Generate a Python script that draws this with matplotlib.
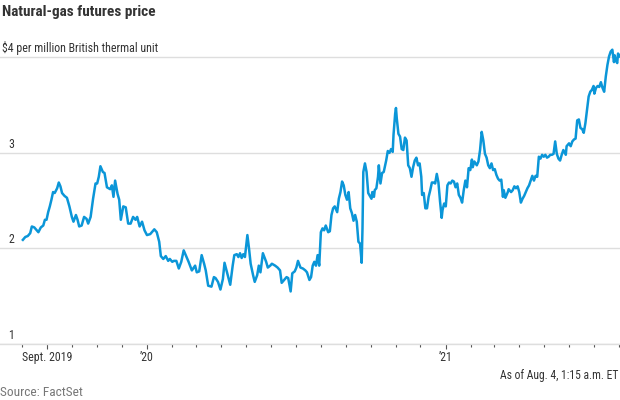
import matplotlib
matplotlib.use("Agg")
import matplotlib.pyplot as plt
import matplotlib.dates as mdates
import matplotlib.ticker as mticker
import matplotlib.transforms as mtransforms
from matplotlib import font_manager
import pandas as pd

# days after 2020-01-01 and price in $/MMBtu
days = [-152, -149, -146, -143, -141, -138, -136, -133, -130, -127,
        -125, -123, -121, -119, -117, -115, -113, -110, -108, -106,
        -104, -101, -98, -95, -92, -90, -87, -85, -83, -80,
        -77, -74, -72, -69, -66, -63, -61, -59, -57, -54,
        -52, -49, -47, -45, -43, -41, -39, -36, -34, -32,
        -29, -26, -23, -20, -17, -14, -12, -9, -6, -3,
        0, 4, 6, 9, 12, 15, 17, 20, 23, 26,
        28, 31, 33, 36, 39, 42, 45, 48, 51, 55,
        59, 61, 64, 67, 70, 72, 75, 79, 82, 84,
        87, 90, 93, 95, 98, 102, 105, 107, 110, 112,
        114, 116, 118, 120, 123, 125, 127, 130, 132, 135,
        137, 139, 142, 146, 148, 151, 153, 157, 160, 163,
        165, 168, 171, 173, 176, 178, 181, 183, 185, 188,
        191, 194, 196, 199, 201, 203, 205, 207, 209, 211,
        213, 215, 217, 219, 222, 224, 226, 228, 230, 233,
        235, 237, 239, 241, 243, 245, 247, 249, 251, 253,
        255, 257, 259, 261, 263, 264, 265, 267, 269, 271,
        273, 275, 276, 278, 279, 281, 283, 284, 286, 288,
        290, 293, 295, 297, 299, 301, 302, 304, 305, 306,
        308, 310, 312, 314, 316, 318, 320, 322, 324, 326,
        328, 330, 332, 334, 336, 337, 339, 341, 343, 345,
        347, 349, 351, 353, 355, 357, 359, 361, 362, 364,
        366, 368, 370, 372, 374, 376, 378, 380, 382, 384,
        386, 388, 390, 392, 394, 396, 398, 399, 401, 404,
        406, 408, 409, 410, 412, 414, 416, 418, 420, 422,
        424, 426, 428, 430, 432, 434, 436, 437, 439, 442,
        443, 446, 448, 450, 452, 454, 456, 458, 460, 462,
        464, 466, 468, 470, 472, 474, 476, 478, 480, 482,
        484, 486, 488, 490, 492, 494, 496, 498, 500, 502,
        504, 506, 508, 510, 513, 514, 517, 519, 521, 523,
        525, 527, 529, 531, 533, 535, 537, 539, 541, 543,
        545, 547, 548, 550, 552, 554, 556, 558, 560, 562,
        564, 566, 568, 570, 572, 573, 574, 576, 577, 579]

prices = [2.09, 2.12, 2.13, 2.16, 2.23, 2.22, 2.20, 2.17, 2.22, 2.24,
          2.30, 2.30, 2.38, 2.44, 2.51, 2.59, 2.58, 2.63, 2.69, 2.65,
          2.58, 2.55, 2.53, 2.44, 2.33, 2.28, 2.35, 2.30, 2.23, 2.24,
          2.33, 2.31, 2.26, 2.33, 2.52, 2.68, 2.68, 2.75, 2.86, 2.80,
          2.79, 2.64, 2.63, 2.62, 2.66, 2.54, 2.71, 2.57, 2.51, 2.30,
          2.44, 2.43, 2.26, 2.26, 2.33, 2.30, 2.33, 2.23, 2.28, 2.19,
          2.14, 2.15, 2.17, 2.20, 2.17, 2.07, 1.92, 1.89, 1.92, 1.87,
          1.89, 1.86, 1.87, 1.87, 1.79, 1.86, 1.98, 1.92, 1.86, 1.77,
          1.82, 1.75, 1.76, 1.93, 1.84, 1.77, 1.61, 1.60, 1.70, 1.69,
          1.65, 1.57, 1.68, 1.85, 1.75, 1.62, 1.82, 1.93, 1.94, 1.91,
          1.95, 1.90, 1.94, 1.91, 2.14, 2.00, 1.84, 1.72, 1.65, 1.72,
          1.82, 1.75, 1.95, 1.86, 1.80, 1.82, 1.84, 1.82, 1.80, 1.77,
          1.64, 1.67, 1.70, 1.69, 1.55, 1.74, 1.76, 1.80, 1.87, 1.80,
          1.79, 1.77, 1.75, 1.67, 1.70, 1.82, 1.86, 1.82, 1.93, 1.82,
          2.17, 2.21, 2.19, 2.24, 2.17, 2.18, 2.35, 2.42, 2.44, 2.38,
          2.52, 2.59, 2.70, 2.66, 2.56, 2.51, 2.59, 2.42, 2.37, 2.29,
          2.35, 2.28, 2.07, 2.05, 1.85, 2.21, 2.80, 2.89, 2.80, 2.58,
          2.55, 2.52, 2.59, 2.54, 2.61, 2.63, 2.75, 2.87, 2.68, 2.79,
          2.80, 2.92, 3.02, 3.00, 3.04, 3.01, 3.19, 3.41, 3.47, 3.36,
          3.20, 3.17, 3.04, 3.03, 3.16, 3.13, 2.87, 2.84, 2.75, 2.85,
          2.92, 2.95, 2.87, 2.89, 2.75, 2.56, 2.58, 2.42, 2.42, 2.54,
          2.61, 2.69, 2.69, 2.68, 2.78, 2.69, 2.49, 2.32, 2.40, 2.47,
          2.44, 2.66, 2.69, 2.68, 2.71, 2.70, 2.64, 2.68, 2.56, 2.53,
          2.48, 2.61, 2.71, 2.64, 2.84, 2.82, 2.93, 2.85, 2.91, 2.87,
          2.91, 3.03, 3.13, 3.22, 3.13, 2.99, 2.95, 2.87, 2.84, 2.89,
          2.82, 2.83, 2.77, 2.73, 2.71, 2.72, 2.54, 2.61, 2.53, 2.59,
          2.62, 2.59, 2.61, 2.65, 2.63, 2.65, 2.59, 2.48, 2.52, 2.55,
          2.59, 2.63, 2.66, 2.71, 2.76, 2.71, 2.76, 2.75, 2.96, 2.94,
          2.98, 2.96, 2.98, 2.95, 2.96, 2.98, 2.98, 2.99, 3.12, 2.99,
          2.94, 2.92, 2.98, 3.03, 2.98, 3.07, 3.10, 3.07, 3.12, 3.14,
          3.15, 3.34, 3.35, 3.26, 3.25, 3.21, 3.31, 3.45, 3.59, 3.64,
          3.66, 3.70, 3.62, 3.68, 3.70, 3.69, 3.74, 3.68, 3.64, 3.80,
          3.92, 4.01, 4.06, 4.08, 3.95, 4.02, 3.97, 3.94, 4.04, 4.01]

y_ticks = [1, 2, 3, 4]
y_labels = ["1", "2", "3", "$4 per million British thermal unit"]
x_tick_dates = ["2019-09-01", "2020-01-01", "2021-01-01"]
x_tick_labels = ["Sept. 2019", "\u201920", "\u201921"]

title = "Natural-gas futures price"
note = "As of Aug. 4, 1:15 a.m. ET"
source = "Source: FactSet"

# pick a narrow face if there is one
installed = {f.name for f in font_manager.fontManager.ttflist}
face = "DejaVu Sans"
for name in ["Liberation Sans Narrow", "Roboto Condensed", "Open Sans Condensed", "Roboto"]:
    if name in installed:
        face = name
        break
plt.rcParams["font.family"] = [face, "DejaVu Sans"]

base = pd.Timestamp("2020-01-01")
dates = base + pd.to_timedelta(days, unit="D")

fig = plt.figure(figsize=(6.2, 4.0), dpi=100)
ax = fig.add_axes([0.0, 0.14, 1.0, 0.7525])

ax.plot(dates, prices, color="#0b96d8", lw=1.8, solid_joinstyle="round", zorder=3)

ax.set_ylim(1, 4.15)
ax.set_xlim(base + pd.Timedelta(days=-180), base + pd.Timedelta(days=579.4))

ax.set_yticks(y_ticks)
ax.tick_params(axis="y", length=0, labelleft=False)
ax.grid(axis="y", color="#dedede", lw=1.0)
ax.set_axisbelow(True)

for s in ["top", "right", "left"]:
    ax.spines[s].set_visible(False)
ax.spines["bottom"].set_color("#dedede")
ax.spines["bottom"].set_linewidth(1.0)

ax.xaxis.set_major_locator(mticker.FixedLocator(mdates.date2num(pd.to_datetime(x_tick_dates))))
ax.xaxis.set_major_formatter(mticker.FixedFormatter(x_tick_labels))
ax.xaxis.set_minor_locator(mdates.MonthLocator())
ax.tick_params(axis="x", which="major", length=3.5, width=0.8, color="#555555",
               pad=1.5, labelsize=8.6, labelcolor="#333333")
ax.tick_params(axis="x", which="minor", length=2.2, width=0.8, color="#555555")

# y labels sit just above their gridlines
lab_off = mtransforms.offset_copy(ax.get_yaxis_transform(), fig=fig, x=0, y=2, units="dots")
for v, lab in zip(y_ticks, y_labels):
    if v == 4:
        ax.text(2 / 620, v, lab, transform=lab_off, ha="left", va="bottom",
                fontsize=8.6, color="#333333")
    else:
        ax.text(14 / 620, v, lab, transform=lab_off, ha="right", va="bottom",
                fontsize=8.6, color="#333333")

fig.text(2 / 620, 1 - 12 / 400, title, ha="left", va="center",
         fontsize=11, fontweight="bold", color="#333333")
fig.text(618 / 620, 1 - 376 / 400, note, ha="right", va="center",
         fontsize=8.4, color="#333333")
fig.text(0, 1 - 392 / 400, source, ha="left", va="center",
         fontsize=9.6, color="#777777")

fig.savefig("out.png", dpi=100)
